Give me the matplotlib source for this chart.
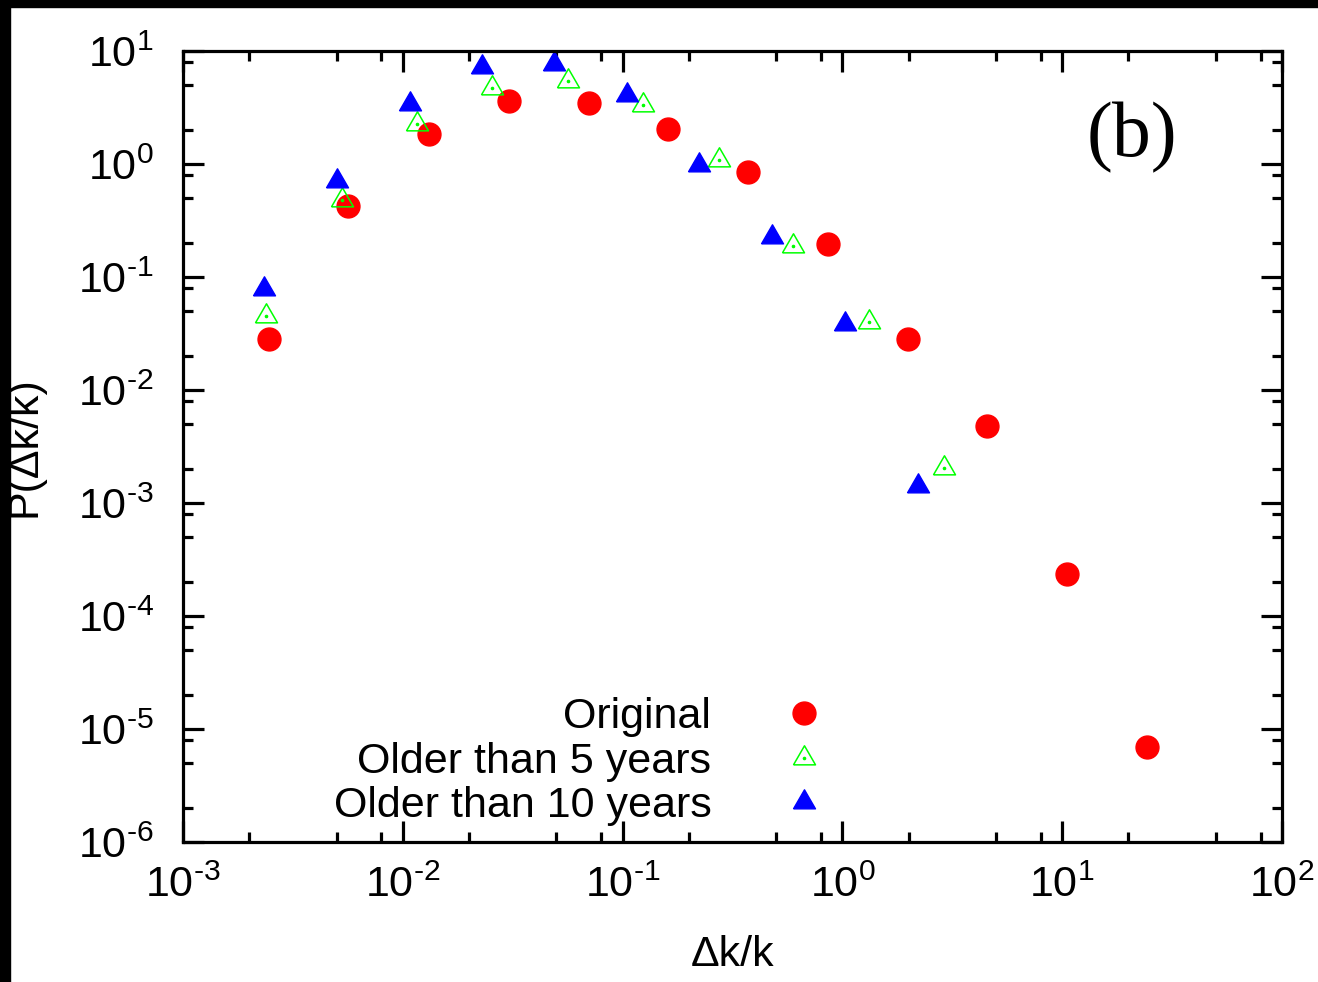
import numpy as np
import matplotlib
matplotlib.use('Agg')
import matplotlib.pyplot as plt
from matplotlib.patches import Rectangle
from matplotlib.ticker import LogLocator, FuncFormatter

plt.rcParams['font.family'] = ['Liberation Sans', 'DejaVu Sans']
plt.rcParams['mathtext.fontset'] = 'custom'
plt.rcParams['mathtext.rm'] = 'Liberation Sans'

# data
x_orig = [0.00246, 0.00564, 0.0132, 0.0303, 0.0702, 0.161, 0.373, 0.859, 1.99, 4.56, 10.5, 24.3]
y_orig = [0.0283, 0.425, 1.83, 3.63, 3.49, 2.05, 0.845, 0.195, 0.0281, 0.00483, 2.34e-4, 6.93e-6]

x_5y = [0.00239, 0.00531, 0.01156, 0.0255, 0.0566, 0.1233, 0.2735, 0.598, 1.317, 2.91]
y_5y = [0.0452, 0.478, 2.24, 4.68, 5.46, 3.30, 1.078, 0.188, 0.0402, 0.00203]

x_10y = [0.00234, 0.00503, 0.01074, 0.0230, 0.0489, 0.105, 0.2235, 0.4786, 1.028, 2.20]
y_10y = [0.0783, 0.703, 3.40, 7.26, 7.73, 4.10, 0.974, 0.226, 0.0381, 0.001406]

labels = ['Original', 'Older than 5 years', 'Older than 10 years']

# triangle with centroid at origin, gnuplot-like proportions
tri = [(-1, -0.577), (1, -0.577), (0, 1.155), (-1, -0.577)]


def pow10(v, pos):
    e = int(round(np.log10(v)))
    s = str(abs(e))
    if e < 0:
        s = r'\text{-}' + s
    return r'$\mathdefault{10^{%s}}$' % s


fig = plt.figure(figsize=(13.18, 9.82), dpi=100)
fig.patches.append(Rectangle((0, 1 - 7 / 982), 1, 7 / 982, transform=fig.transFigure, color='black', zorder=10))
fig.patches.append(Rectangle((0, 0), 10 / 1318, 1, transform=fig.transFigure, color='black', zorder=10))

ax = fig.add_axes([183 / 1318, 140 / 982, 1099 / 1318, 791 / 982])

red, = ax.plot(x_orig, y_orig, ls='none', marker='o', ms=16.5, color='#ff0000', mec='#ff0000')
green, = ax.plot(x_5y, y_5y, ls='none', marker=tri, ms=18.3, mfc='none', mec='#00ff00', mew=1.1)
green_dot, = ax.plot(x_5y, y_5y, ls='none', marker='o', ms=1.6, color='#00ff00')
blue, = ax.plot(x_10y, y_10y, ls='none', marker=tri, ms=18.3, color='#0000ff', mec='#0000ff')

ax.set_xscale('log')
ax.set_yscale('log')
ax.set_xlim(1e-3, 1e2)
ax.set_ylim(1e-6, 1e1)

ax.xaxis.set_major_locator(LogLocator(base=10, numticks=20))
ax.yaxis.set_major_locator(LogLocator(base=10, numticks=20))
ax.xaxis.set_minor_locator(LogLocator(base=10, subs=[2, 5, 8], numticks=20))
ax.yaxis.set_minor_locator(LogLocator(base=10, subs=[2, 5, 8], numticks=20))
ax.xaxis.set_major_formatter(FuncFormatter(pow10))
ax.yaxis.set_major_formatter(FuncFormatter(pow10))
ax.tick_params(which='both', direction='in', top=True, right=True, width=2.3, labelsize=31)
ax.tick_params(which='major', length=15)
ax.tick_params(which='minor', length=7.5, labelleft=False, labelbottom=False)
ax.tick_params(axis='x', which='major', pad=17)
ax.tick_params(axis='y', which='major', pad=21)
for s in ax.spines.values():
    s.set_linewidth(2.3)

ax.set_xlabel('Δk/k', fontsize=31)
ax.set_ylabel('P(Δk/k)', fontsize=31)
ax.xaxis.set_label_coords(0.5, -0.117)
ax.yaxis.set_label_coords(-0.126, 0.5)

ax.text(0.8635, 0.89, '(b)', transform=ax.transAxes, fontsize=56,
        family=['Liberation Serif', 'DejaVu Serif'], ha='center', va='center')

ax.legend([red, (green, green_dot), blue], labels, loc='lower right',
          bbox_to_anchor=(847 / 1318, 1 - 826 / 982), bbox_transform=fig.transFigure,
          frameon=False, markerfirst=False, fontsize=31, borderpad=0, borderaxespad=0,
          handletextpad=1.15, handlelength=2.0, labelspacing=0.1)

fig.savefig('out.png', dpi=100)
